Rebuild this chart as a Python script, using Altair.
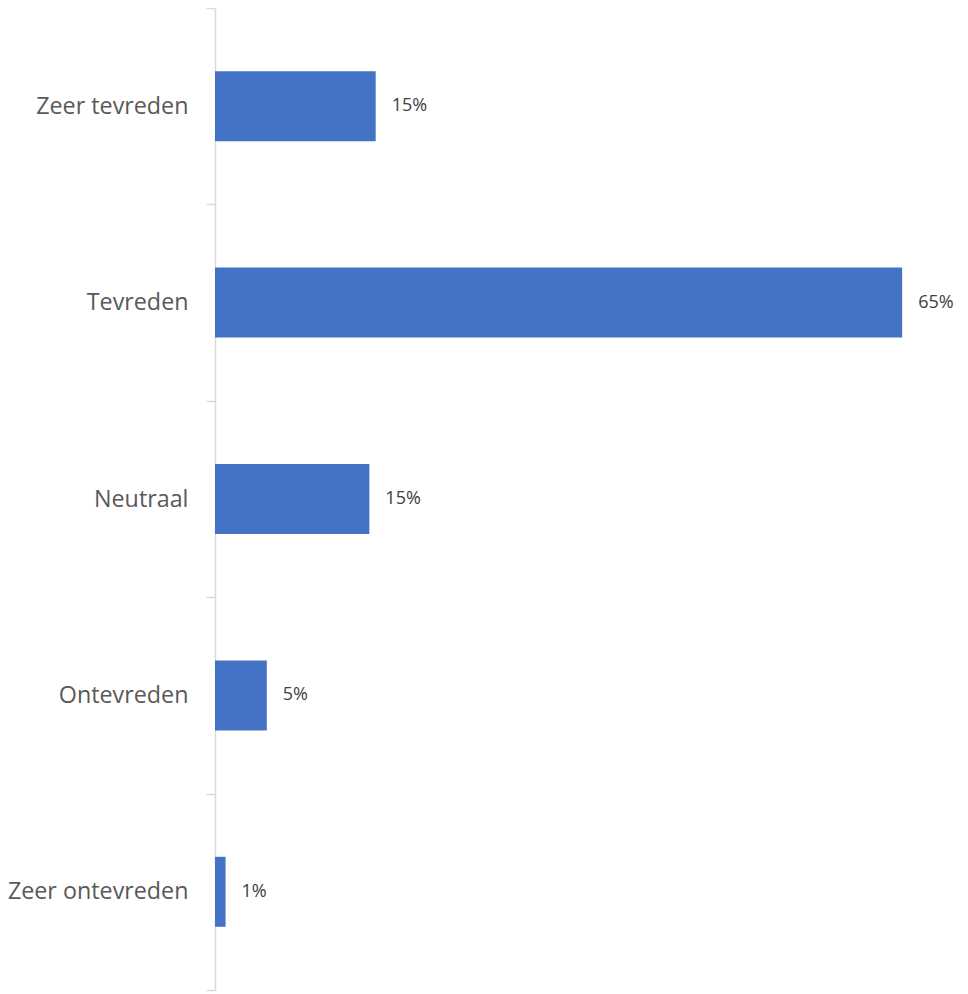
import altair as alt
import pandas as pd

categories = ["Zeer tevreden", "Tevreden", "Neutraal", "Ontevreden", "Zeer ontevreden"]
values = [15.2, 65.0, 14.6, 4.9, 1.0]
labels = ["15%", "65%", "15%", "5%", "1%"]

df = pd.DataFrame({"cat": categories, "val": values, "lab": labels})

y = alt.Y("cat:N", sort=categories, title=None,
          scale=alt.Scale(paddingInner=0, paddingOuter=0),
          axis=alt.Axis(tickBand="extent", domainColor="#d9d9d9", tickColor="#d9d9d9",
                        tickSize=9, domainWidth=1.5, tickWidth=1.5,
                        labelPadding=18, labelFont="Open Sans", labelFontSize=23.3,
                        labelColor="#595959", labelLimit=300))
x = alt.X("val:Q", scale=alt.Scale(domain=[0, 70]), axis=None)

bars = alt.Chart(df).mark_bar(size=70, color="#4472C4").encode(x=x, y=y)
text = alt.Chart(df).mark_text(align="left", baseline="middle", dx=16, font="Open Sans",
                               fontSize=18, color="#404040").encode(x=x, y=y, text="lab:N")

chart = (bars + text).properties(
    width=740, height=982,
    autosize=alt.AutoSizeParams(type="none"),
    padding={"left": 207, "top": 0, "right": 5, "bottom": 4},
).configure_view(stroke=None)

chart.save("out.html", embed_options={"renderer": "svg", "actions": False})
